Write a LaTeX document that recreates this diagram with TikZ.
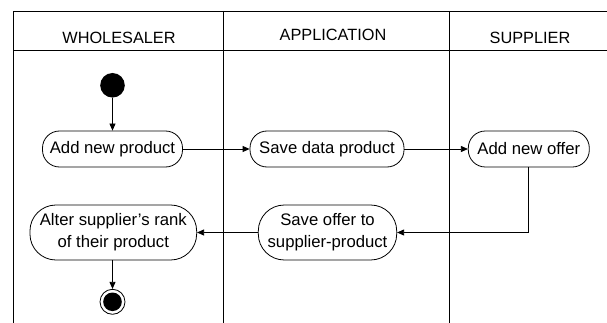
\documentclass[tikz,border=0pt]{standalone}
\usepackage{fontspec}
\setmainfont{Liberation Sans}
\usetikzlibrary{arrows.meta}
\begin{document}
\begin{tikzpicture}[x=1pt,y=-1pt,
  lane/.style={line width=0.8pt,draw=black},
  hdr/.style={font=\fontsize{16.3}{19}\selectfont,inner sep=0pt},
  act/.style={draw,line width=0.8pt,rounded corners=17pt,inner sep=0pt,
    align=center,font=\fontsize{16.7}{22}\selectfont},
  flow/.style={line width=0.8pt,-{Triangle[length=7pt,width=6pt]}},
]
\useasboundingbox (0,0) rectangle (607,323);

% swimlane frame
\draw[lane] (13.5,323) -- (13.5,11) -- (607,11);
\draw[lane] (13.5,50.5) -- (607,50.5);
\draw[lane] (223,11) -- (223,323);
\draw[lane] (449,11) -- (449,323);

% lane headings
\node[hdr] (hw) at (119,37.5) {WHOLESALER};
\node[hdr] (ha) at (333,34.5) {APPLICATION};
\node[hdr] (hs) at (530,37.5) {SUPPLIER};

% initial and final states
\node[circle,fill=black,inner sep=0pt,minimum size=24.6pt] (start) at (112.5,85.3) {};
\node[circle,draw,line width=0.8pt,fill=white,inner sep=0pt,minimum size=25pt] (end) at (112.5,301.8) {};
\fill[black] (end.center) circle[radius=9.3pt];

% activities
\node[act,minimum width=140pt,minimum height=36pt] (add) at (112.5,149) {Add new product};
\node[act,minimum width=154pt,minimum height=36pt] (savedata) at (327,149) {Save data product};
\node[act,minimum width=121pt,minimum height=36pt] (offer) at (528.8,149) {Add new offer};
\node[act,rounded corners=26pt,minimum width=138.4pt,minimum height=55pt] (saveoffer) at (327.5,232.5) {Save offer to\\supplier-product};
\node[act,rounded corners=26pt,minimum width=166.7pt,minimum height=55pt] (alter) at (113.3,232.5) {Alter supplier’s rank\\of their product};

% control flow
\draw[flow] (start) -- (add);
\draw[flow] (add) -- (savedata);
\draw[flow] (savedata) -- (offer);
\draw[flow] (offer.south) |- (saveoffer.east);
\draw[flow] (saveoffer) -- (alter);
\draw[flow] (alter.south -| end) -- (end);
\end{tikzpicture}
\end{document}
